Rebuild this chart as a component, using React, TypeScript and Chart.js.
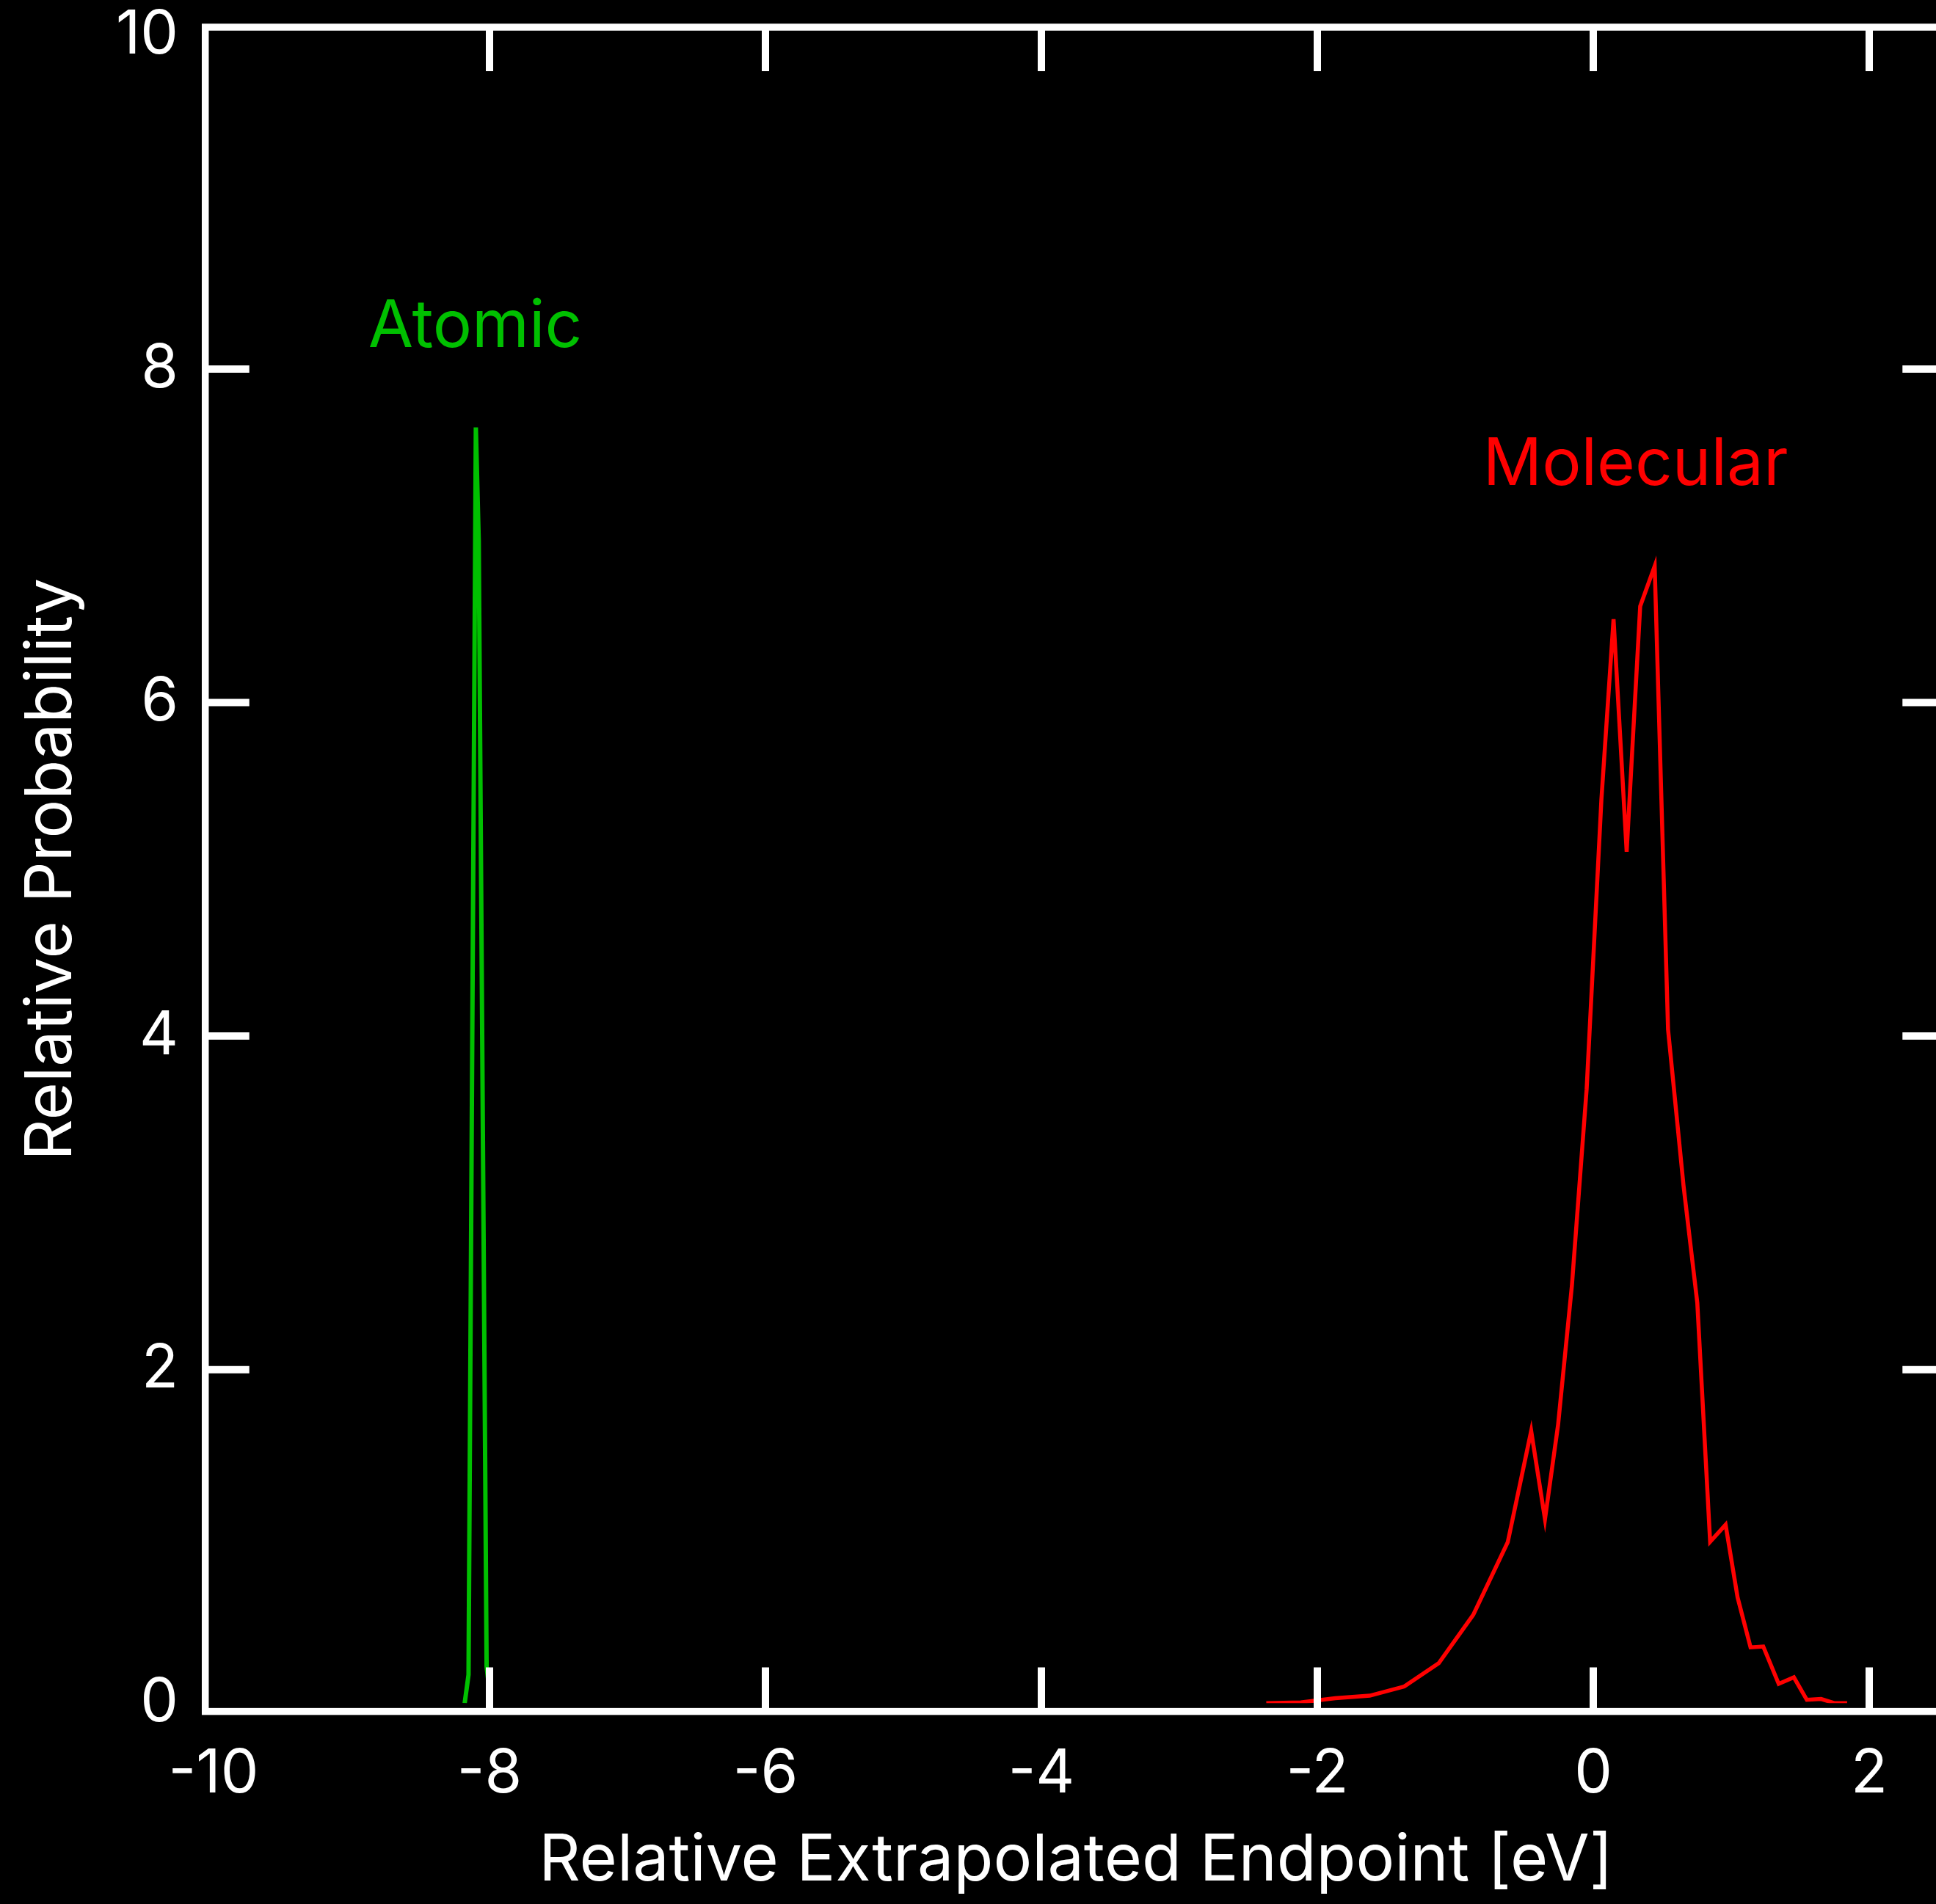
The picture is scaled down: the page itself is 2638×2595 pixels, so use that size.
import React, { useEffect, useRef } from "react";
import { Chart, registerables } from "chart.js";

Chart.register(...registerables);

// ---- data ----
const atomicX = [-8.18, -8.152, -8.099, -8.078, -8.021, -7.99];
const atomicY = [0, 0.17, 7.65, 6.97, 0.22, 0];

const molecularX = [
  -2.37, -2.12, -1.87, -1.62, -1.37, -1.12, -0.87, -0.62, -0.45, -0.35, -0.255,
  -0.155, -0.048, 0.059, 0.147, 0.242, 0.34, 0.445, 0.542, 0.654, 0.754, 0.847,
  0.959, 1.046, 1.14, 1.232, 1.344, 1.454, 1.548, 1.651, 1.75, 1.84,
];
const molecularY = [
  0, 0.005, 0.03, 0.045, 0.1, 0.24, 0.53, 0.965, 1.632, 1.104, 1.669, 2.503,
  3.683, 5.42, 6.5, 5.105, 6.577, 6.818, 4.04, 3.104, 2.4, 0.968, 1.07, 0.634,
  0.335, 0.34, 0.116, 0.155, 0.02, 0.025, 0, 0,
];

const xTickValues = [-10, -8, -6, -4, -2, 0, 2];
const yTickValues = [0, 2, 4, 6, 8, 10];
const xMin = -10;
const xMax = 2.5;
const yMin = 0;
const yMax = 10;

const xTitle = "Relative Extrapolated Endpoint [eV]";
const yTitle = "Relative Probability";

const seriesNames = ["Atomic", "Molecular"];
const noteX = [-8.879, -0.799];
const noteY = [8.133, 7.305];

// ---- styles ----
const GREEN = "#00c000";
const RED = "#ff0000";
const FONT = "Inter";
const CANVAS_W = 2700;
const CANVAS_H = 2595;

const framePlugin = {
  id: "frame",
  afterDatasetsDraw(chart: any) {
    const { ctx, chartArea: a, scales } = chart;
    const xs = scales.x;
    const ys = scales.y;
    const off = 11.3;
    const L = a.left - off;
    const R = a.right + off;
    const T = a.top - off;
    const B = a.bottom + off;
    ctx.save();
    ctx.strokeStyle = "#ffffff";
    ctx.lineWidth = 9.5;
    ctx.lineJoin = "miter";
    ctx.strokeRect(L, T, R - L, B - T);
    ctx.lineWidth = 10;
    ctx.lineCap = "butt";
    const len = 60;
    ctx.beginPath();
    for (const v of xTickValues) {
      if (v <= xMin || v >= xMax) continue;
      const px = xs.getPixelForValue(v);
      ctx.moveTo(px, B);
      ctx.lineTo(px, B - len);
      ctx.moveTo(px, T);
      ctx.lineTo(px, T + len);
    }
    for (const v of yTickValues) {
      if (v <= yMin || v >= yMax) continue;
      const py = ys.getPixelForValue(v);
      ctx.moveTo(L, py);
      ctx.lineTo(L + len, py);
      ctx.moveTo(R, py);
      ctx.lineTo(R - len, py);
    }
    ctx.stroke();
    ctx.restore();
  },
};

const notePlugin = {
  id: "notes",
  afterDatasetsDraw(chart: any) {
    const { ctx, scales } = chart;
    ctx.save();
    ctx.textAlign = "left";
    ctx.textBaseline = "alphabetic";
    ctx.font = `89px ${FONT}`;
    seriesNames.forEach((name, i) => {
      ctx.fillStyle = chart.data.datasets[i].borderColor;
      ctx.fillText(name, scales.x.getPixelForValue(noteX[i]), scales.y.getPixelForValue(noteY[i]));
    });
    ctx.restore();
  },
};

const zeroPadding = (s: any) => {
  s.paddingTop = 0;
  s.paddingBottom = 0;
  s.paddingLeft = 0;
  s.paddingRight = 0;
};

export default function App() {
  const ref = useRef<HTMLCanvasElement | null>(null);
  useEffect(() => {
    if (!ref.current) return;
    const chart = new Chart(ref.current, {
      type: "line",
      data: {
        datasets: [
          {
            label: seriesNames[0],
            data: atomicX.map((x, i) => ({ x, y: atomicY[i] })),
            borderColor: GREEN,
            borderWidth: 6,
            pointRadius: 0,
            tension: 0,
            fill: false,
          },
          {
            label: seriesNames[1],
            data: molecularX.map((x, i) => ({ x, y: molecularY[i] })),
            borderColor: RED,
            borderWidth: 5.5,
            pointRadius: 0,
            tension: 0,
            fill: false,
          },
        ],
      },
      options: {
        responsive: false,
        animation: false,
        devicePixelRatio: 1,
        layout: { padding: { top: 48.3, right: CANVAS_W - 2641, left: 0, bottom: 0 } },
        plugins: { legend: { display: false }, tooltip: { enabled: false } },
        scales: {
          x: {
            type: "linear",
            min: xMin,
            max: xMax,
            afterBuildTicks: (s: any) => {
              s.ticks = xTickValues.map((v) => ({ value: v }));
            },
            afterFit: (s: any) => {
              s.height = CANVAS_H - 2321.3;
              zeroPadding(s);
            },
            grid: { display: false, drawTicks: false },
            border: { display: false },
            ticks: {
              color: "#ffffff",
              font: { family: FONT, size: 82 },
              padding: 48,
              maxRotation: 0,
              autoSkip: false,
              callback: (v: any) => String(v),
            },
            title: {
              display: true,
              text: xTitle,
              color: "#ffffff",
              font: { family: FONT, size: 88 },
              padding: { top: 0, bottom: 6 },
            },
          },
          y: {
            type: "linear",
            min: yMin,
            max: yMax,
            afterBuildTicks: (s: any) => {
              s.ticks = yTickValues.map((v) => ({ value: v }));
            },
            afterFit: (s: any) => {
              s.width = 291;
              zeroPadding(s);
            },
            grid: { display: false, drawTicks: false },
            border: { display: false },
            ticks: {
              color: "#ffffff",
              font: { family: FONT, size: 82 },
              padding: 48,
              autoSkip: false,
              callback: (v: any) => String(v),
            },
            title: {
              display: true,
              text: yTitle,
              color: "#ffffff",
              font: { family: FONT, size: 88 },
              padding: { top: 18, bottom: 0 },
            },
          },
        },
      },
      plugins: [framePlugin, notePlugin],
    });
    return () => chart.destroy();
  }, []);

  return (
    <div
      style={{
        position: "fixed",
        left: 0,
        top: 0,
        width: 2638,
        height: 2595,
        overflow: "hidden",
        background: "#000000",
      }}
    >
      <canvas ref={ref} width={CANVAS_W} height={CANVAS_H} style={{ display: "block", width: CANVAS_W, height: CANVAS_H }} />
    </div>
  );
}
